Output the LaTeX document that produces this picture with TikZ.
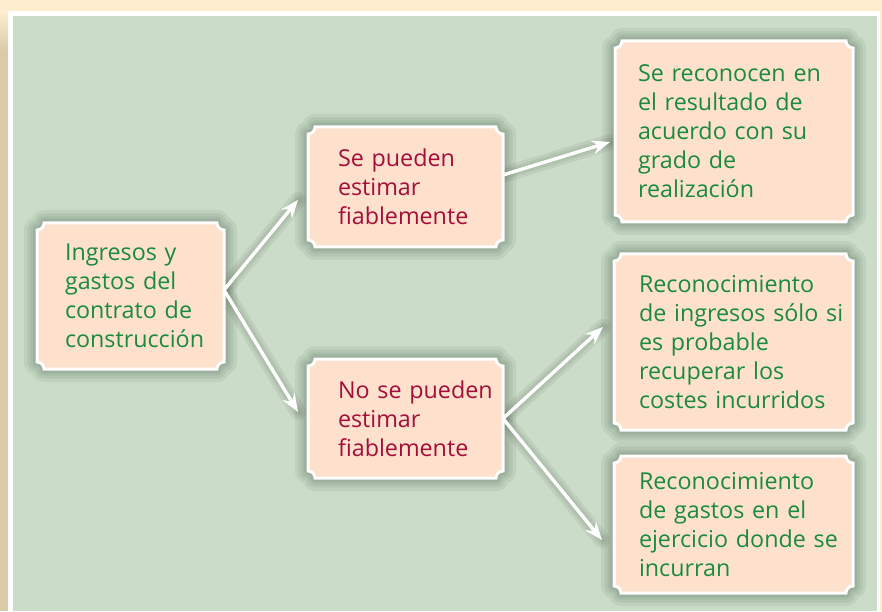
\documentclass[tikz,border=0pt]{standalone}
\usepackage{fontspec}
\setmainfont{Open Sans}
\usetikzlibrary{arrows.meta,calc}
\definecolor{cream}{RGB}{253,238,208}
\definecolor{tanshade}{RGB}{218,202,170}
\definecolor{panelgreen}{RGB}{203,221,200}
\definecolor{peach}{RGB}{253,225,204}
\definecolor{txtgreen}{RGB}{26,138,60}
\definecolor{txtred}{RGB}{165,13,58}
\definecolor{shadowcol}{RGB}{40,60,45}
\pgfdeclarelayer{boxlayer}
\pgfdeclarelayer{panellayer}
\pgfsetlayers{panellayer,boxlayer,main}
\tikzset{
  boxnode/.style={shape=rectangle, inner sep=0pt, outer sep=0pt, align=left,
    font=\fontsize{23.3}{29}\selectfont},
  boxpaint/.style={fill=peach, draw=white, line width=3pt},
  boxshade/.style={draw=shadowcol, fill=shadowcol, opacity=.075, line join=round, xshift=4pt, yshift=-4pt},
  arrowline/.style={draw=white, line width=3.5pt, -{Stealth[length=18pt,width=14pt,inset=6pt]}},
  arrowshade/.style={draw=shadowcol, opacity=.08, line cap=round, xshift=3pt, yshift=-3pt}
}
\newcommand\cornerpath[2]{%
  \path[#2] let \p1=(#1.south west), \p2=(#1.north east) in
   (\x1+7pt,\y2) -- (\x2-7pt,\y2) arc[start angle=180,end angle=270,radius=7pt]
   -- (\x2,\y1+7pt) arc[start angle=90,end angle=180,radius=7pt]
   -- (\x1+7pt,\y1) arc[start angle=0,end angle=90,radius=7pt]
   -- (\x1,\y2-7pt) arc[start angle=270,end angle=360,radius=7pt] -- cycle;}
\newcommand\cornerbox[1]{%
  \cornerpath{#1}{boxshade, line width=26pt}%
  \cornerpath{#1}{boxshade, line width=19pt}%
  \cornerpath{#1}{boxshade, line width=13pt}%
  \cornerpath{#1}{boxshade, line width=8pt}%
  \cornerpath{#1}{boxshade, line width=4pt}%
  \cornerpath{#1}{boxpaint}}
\newcommand\linkshadow[2]{%
  \draw[arrowshade, line width=16pt] #1 -- #2;
  \draw[arrowshade, line width=10pt] #1 -- #2;
  \draw[arrowshade, line width=5pt] #1 -- #2;}
\begin{document}
\begin{tikzpicture}[x=1pt,y=1pt]
\useasboundingbox (0,0) rectangle (882,611);
\begin{pgfonlayer}{panellayer}
  \fill[cream] (0,0) rectangle (882,611);
  \fill[tanshade] (0,0) rectangle (8,560);
  \shade[top color=cream, bottom color=tanshade] (0,560) rectangle (8,600);
  \fill[white] (8,0) rectangle (880,600);
  \fill[panelgreen] (13,0) rectangle (877,595);
\end{pgfonlayer}

\node[boxnode, minimum width=187pt, minimum height=146pt, text width=131pt, text=txtgreen] (A) at (130.5,315)
  {\mbox{Ingresos y}\\\mbox{gastos del}\\\mbox{contrato de}\\\mbox{construcción}};
\node[boxnode, minimum width=195pt, minimum height=120pt, text width=135pt, text=txtred] (B) at (405.5,424)
  {\mbox{Se pueden}\\\mbox{estimar}\\\mbox{fiablemente}};
\node[boxnode, minimum width=195pt, minimum height=119pt, text width=135pt, text=txtred] (C) at (405.5,192.5)
  {\mbox{No se pueden}\\\mbox{estimar}\\\mbox{fiablemente}};
\node[boxnode, minimum width=238pt, minimum height=181pt, text width=192pt, text=txtgreen] (D) at (734,479.5)
  {\mbox{Se reconocen en}\\\mbox{el resultado de}\\\mbox{acuerdo con su}\\\mbox{grado de}\\\mbox{realización}};
\node[boxnode, minimum width=239pt, minimum height=176pt, text width=189pt, text=txtgreen] (E) at (733.5,269)
  {\mbox{Reconocimiento}\\\mbox{de ingresos sólo si}\\\mbox{es probable}\\\mbox{recuperar los}\\\mbox{costes incurridos}};
\node[boxnode, minimum width=239pt, minimum height=137pt, text width=189pt, text=txtgreen] (F) at (733.5,86.5)
  {\mbox{Reconocimiento}\\\mbox{de gastos en el}\\\mbox{ejercicio donde se}\\\mbox{incurran}};

\coordinate (aout) at ([yshift=6pt]A.east);
\coordinate (bout) at ([yshift=12pt]B.east);
\coordinate (ab) at ([xshift=-10pt,yshift=-13pt]B.west);
\coordinate (ac) at ([xshift=-10pt,yshift=6.5pt]C.west);
\coordinate (bd) at ([xshift=-5pt,yshift=-10.5pt]D.west);
\coordinate (ce) at ([xshift=-11pt,yshift=15pt]E.west);
\coordinate (cf) at ([xshift=-12pt,yshift=-15.5pt]F.west);

\begin{pgfonlayer}{boxlayer}
  \linkshadow{(aout)}{(ab)}
  \linkshadow{(aout)}{(ac)}
  \linkshadow{(bout)}{(bd)}
  \linkshadow{(C.east)}{(ce)}
  \linkshadow{(C.east)}{(cf)}
  \cornerbox{A}\cornerbox{B}\cornerbox{C}\cornerbox{D}\cornerbox{E}\cornerbox{F}
\end{pgfonlayer}

\draw[arrowline] (aout) -- (ab);
\draw[arrowline] (aout) -- (ac);
\draw[arrowline] (bout) -- (bd);
\draw[arrowline] (C.east) -- (ce);
\draw[arrowline] (C.east) -- (cf);
\end{tikzpicture}
\end{document}
